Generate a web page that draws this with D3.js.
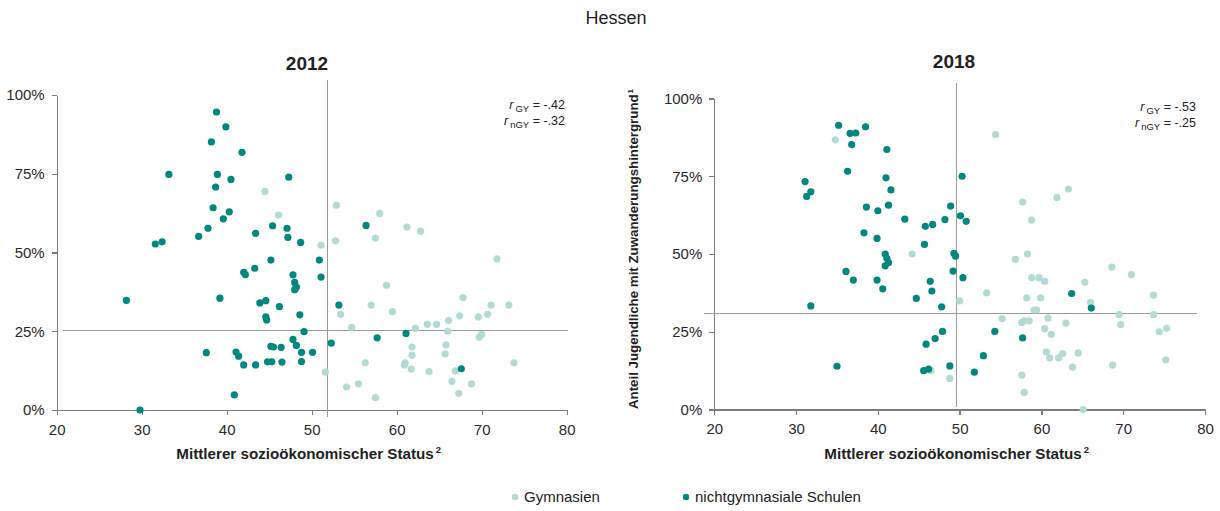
<!DOCTYPE html>
<html lang="de">
  <head>
    <meta charset="utf-8">
    <title>Hessen</title>
    <script src="https://cdn.jsdelivr.net/npm/d3@7"></script>
    <style>
      body { margin: 0; background: #fff; }
      svg text { font-family: "Liberation Sans", Arial, sans-serif; fill: #222; }
      .axis path, .axis line { stroke: #7d7d7d; stroke-width: 1.4; shape-rendering: crispEdges; }
      .axis text { font-size: 15px; fill: #2a2a2a; }
      .refline { stroke: #9a9a9a; stroke-width: 1; shape-rendering: crispEdges; }
    </style>
  </head>
  <body>
    <script>
      // values: [status, share %]
      var gy2012 = [[52.9,65.0],[46.1,61.9],[44.5,69.4],[58.0,62.4],[61.2,58.1],[62.8,56.8],[57.5,54.6],[52.8,53.7],[51.1,52.3],[53.4,30.4],[51.6,12.0],[71.8,48.0],[58.8,39.6],[67.8,35.7],[57.0,33.3],[59.5,31.2],[71.1,33.3],[73.2,33.3],[70.7,30.4],[69.6,29.5],[67.4,29.9],[66.1,28.4],[64.7,27.2],[63.6,27.2],[62.2,25.9],[54.7,26.2],[66.0,25.0],[70.0,24.0],[69.7,23.1],[65.8,20.7],[61.8,20.0],[61.8,17.4],[65.7,17.8],[56.3,15.0],[61.0,15.0],[60.9,14.3],[61.7,13.0],[63.8,12.2],[66.9,12.4],[73.8,15.0],[66.5,9.1],[68.8,8.3],[55.5,8.3],[54.1,7.3],[67.3,5.3],[57.5,3.9]];
      var ngy2012 = [[38.8,94.6],[39.9,89.9],[38.2,85.1],[41.8,81.8],[33.2,74.8],[38.9,74.8],[47.3,73.9],[40.5,73.2],[38.7,70.8],[38.4,64.2],[40.3,62.9],[39.6,60.7],[37.8,57.7],[45.4,58.5],[47.1,57.7],[43.4,56.1],[47.2,54.8],[36.7,55.1],[32.4,53.4],[31.6,52.7],[48.7,53.2],[56.4,58.6],[50.9,47.6],[51.1,42.2],[45.2,47.6],[42.0,43.7],[42.2,43.0],[43.3,45.0],[47.8,42.9],[48.0,40.5],[48.2,39.0],[48.0,38.2],[28.2,34.8],[39.2,35.5],[43.9,34.0],[44.6,34.7],[46.2,32.8],[44.6,29.6],[44.7,28.6],[48.6,30.2],[53.2,33.3],[49.1,24.9],[47.8,22.4],[48.2,20.5],[45.2,20.2],[45.5,20.0],[46.4,19.9],[50.1,18.3],[48.8,18.3],[52.3,21.2],[37.6,18.2],[41.1,18.4],[41.4,17.1],[42.0,14.3],[43.4,14.3],[44.8,15.3],[45.3,15.3],[46.5,15.2],[48.8,15.4],[40.9,4.8],[29.8,0],[57.7,22.9],[61.1,24.3],[67.6,13.1]];
      var gy2018 = [[34.8,86.7],[54.4,88.4],[57.7,66.7],[61.9,68.2],[63.3,70.9],[58.8,60.9],[44.2,50.0],[50.0,34.9],[46.5,12.5],[48.8,10.0],[56.8,48.3],[58.3,50.0],[58.8,42.4],[59.7,42.4],[60.4,41.2],[53.3,37.5],[58.2,35.9],[59.9,35.9],[59.1,32.0],[59.4,32.0],[65.3,40.9],[66.0,34.4],[68.6,45.8],[71.0,43.4],[73.7,36.8],[69.5,30.5],[73.7,30.5],[55.2,29.2],[57.6,28.0],[57.9,28.5],[58.5,28.5],[60.8,29.4],[60.4,26.0],[63.0,27.8],[61.2,24.2],[69.7,27.3],[74.4,25.0],[75.3,26.1],[60.6,18.5],[61.0,16.6],[62.1,16.6],[62.6,18.0],[64.5,18.2],[63.8,13.6],[68.7,14.3],[75.2,16.0],[57.6,11.1],[57.9,5.5],[65.1,0]];
      var ngy2018 = [[35.2,91.4],[36.6,88.8],[37.3,88.9],[38.5,90.9],[36.8,85.2],[41.1,83.6],[36.3,76.6],[31.1,73.3],[41.0,74.5],[41.6,70.6],[31.8,70.0],[31.3,68.5],[38.6,65.1],[41.3,65.7],[40.0,63.9],[43.3,61.2],[45.8,58.9],[46.7,59.5],[48.2,61.1],[48.9,65.4],[50.3,75.0],[50.1,62.3],[50.8,60.5],[38.3,56.8],[39.9,55.0],[45.7,53.1],[40.9,50.0],[41.1,48.6],[41.3,47.2],[40.9,46.2],[49.3,50.2],[49.5,49.3],[36.1,44.4],[37.0,41.6],[39.9,41.6],[49.2,44.5],[46.4,41.2],[46.6,38.1],[40.6,38.8],[44.7,35.7],[47.8,33.0],[31.8,33.3],[47.9,25.1],[47.0,22.8],[45.9,21.0],[35.0,13.9],[48.8,14.0],[45.6,12.5],[46.2,13.0],[50.4,42.4],[63.7,37.3],[66.1,32.6],[54.3,25.1],[57.7,23.0],[52.9,17.3],[51.8,12.0]];

      var years = ["2012", "2018"];
      var rGY = ["-.42", "-.53"];
      var rNGY = ["-.32", "-.25"];
      // mean lines: x mean, y mean, and extents of the drawn lines
      var meanX = [51.8, 49.6];
      var meanY = [25.2, 31.0];
      var vLineSpan = [[-2.2, 104.8], [0.8, 105]];
      var hLineSpan = [[20.7, 80.15], [18.7, 79.0]];

      var xTicks = [20, 30, 40, 50, 60, 70, 80];
      var yTicks = [0, 25, 50, 75, 100];
      var legendLabels = ["Gymnasien", "nichtgymnasiale Schulen"];
      var colors = ["#b4dad6", "#00877e"];

      var w = 1220, h = 511, r = 3.6;

      var panels = [
        { x0: 56.7, x1: 566.7, y0: 410, y1: 95, titleX: 307, titleY: 70, annX: 565, annY: 109, gy: gy2012, ngy: ngy2012, ylabel: false },
        { x0: 714.3, x1: 1205, y0: 409.5, y1: 98.5, titleX: 954, titleY: 68, annX: 1196, annY: 111, gy: gy2018, ngy: ngy2018, ylabel: true }
      ];

      var svg = d3.select("body")
        .append("svg")
        .attr("width", w)
        .attr("height", h);

      svg.append("text")
        .attr("x", 616)
        .attr("y", 24)
        .attr("text-anchor", "middle")
        .style("font-size", "18px")
        .text("Hessen");

      panels.forEach(function(p, i) {
        var xScale = d3.scaleLinear().domain([20, 80]).range([p.x0, p.x1]);
        var yScale = d3.scaleLinear().domain([0, 100]).range([p.y0, p.y1]);

        var g = svg.append("g");

        g.append("g")
          .attr("class", "axis")
          .attr("transform", "translate(0," + p.y0 + ")")
          .call(d3.axisBottom(xScale).tickValues(xTicks).tickSize(5).tickSizeOuter(0).tickPadding(9));

        g.append("g")
          .attr("class", "axis")
          .attr("transform", "translate(" + p.x0 + ",0)")
          .call(d3.axisLeft(yScale).tickValues(yTicks).tickSize(5).tickSizeOuter(0).tickPadding(7)
            .tickFormat(function(d) { return d + "%"; }));

        // mean lines
        g.append("line")
          .attr("class", "refline")
          .attr("x1", xScale(meanX[i])).attr("x2", xScale(meanX[i]))
          .attr("y1", yScale(vLineSpan[i][0])).attr("y2", yScale(vLineSpan[i][1]));

        g.append("line")
          .attr("class", "refline")
          .attr("x1", xScale(hLineSpan[i][0])).attr("x2", xScale(hLineSpan[i][1]))
          .attr("y1", yScale(meanY[i])).attr("y2", yScale(meanY[i]));

        g.selectAll("circle.gy")
          .data(p.gy)
          .enter()
          .append("circle")
          .attr("class", "gy")
          .attr("cx", function(d) { return xScale(d[0]); })
          .attr("cy", function(d) { return yScale(d[1]); })
          .attr("r", r)
          .attr("fill", colors[0]);

        g.selectAll("circle.ngy")
          .data(p.ngy)
          .enter()
          .append("circle")
          .attr("class", "ngy")
          .attr("cx", function(d) { return xScale(d[0]); })
          .attr("cy", function(d) { return yScale(d[1]); })
          .attr("r", r)
          .attr("fill", colors[1]);

        g.append("text")
          .attr("x", p.titleX)
          .attr("y", p.titleY)
          .attr("text-anchor", "middle")
          .style("font-size", "19px")
          .style("font-weight", "bold")
          .text(years[i]);

        // correlation notes
        [["GY", rGY[i]], ["nGY", rNGY[i]]].forEach(function(a, k) {
          var t = g.append("text")
            .attr("x", p.annX)
            .attr("y", p.annY + k * 16)
            .attr("text-anchor", "end")
            .style("font-size", "12.5px");
          t.append("tspan").style("font-style", "italic").text("r");
          t.append("tspan").attr("dy", 3).attr("dx", 2).style("font-size", "9.5px").text(a[0]);
          t.append("tspan").attr("dy", -3).text(" = " + a[1]);
        });

        var xl = g.append("text")
          .attr("x", (p.x0 + p.x1) / 2 - 3)
          .attr("y", 459)
          .attr("text-anchor", "middle")
          .style("font-size", "15.2px")
          .style("font-weight", "bold")
          .text("Mittlerer sozioökonomischer Status");
        xl.append("tspan").attr("dy", -6).attr("dx", 2).style("font-size", "9.5px").text("2");

        if (p.ylabel) {
          var yl = g.append("text")
            .attr("transform", "translate(638," + 249 + ") rotate(-90)")
            .attr("text-anchor", "middle")
            .style("font-size", "13.3px")
            .style("font-weight", "bold")
            .text("Anteil Jugendliche mit Zuwanderungshintergrund");
          yl.append("tspan").attr("dy", -5).attr("dx", 1).style("font-size", "8px").text("1");
        }
      });

      // legend
      var legendX = [515, 686];
      legendLabels.forEach(function(l, i) {
        svg.append("circle")
          .attr("cx", legendX[i])
          .attr("cy", 497)
          .attr("r", 3.2)
          .attr("fill", colors[i]);
        svg.append("text")
          .attr("x", legendX[i] + 9)
          .attr("y", 502)
          .style("font-size", "15px")
          .text(l);
      });
    </script>
  </body>
</html>
